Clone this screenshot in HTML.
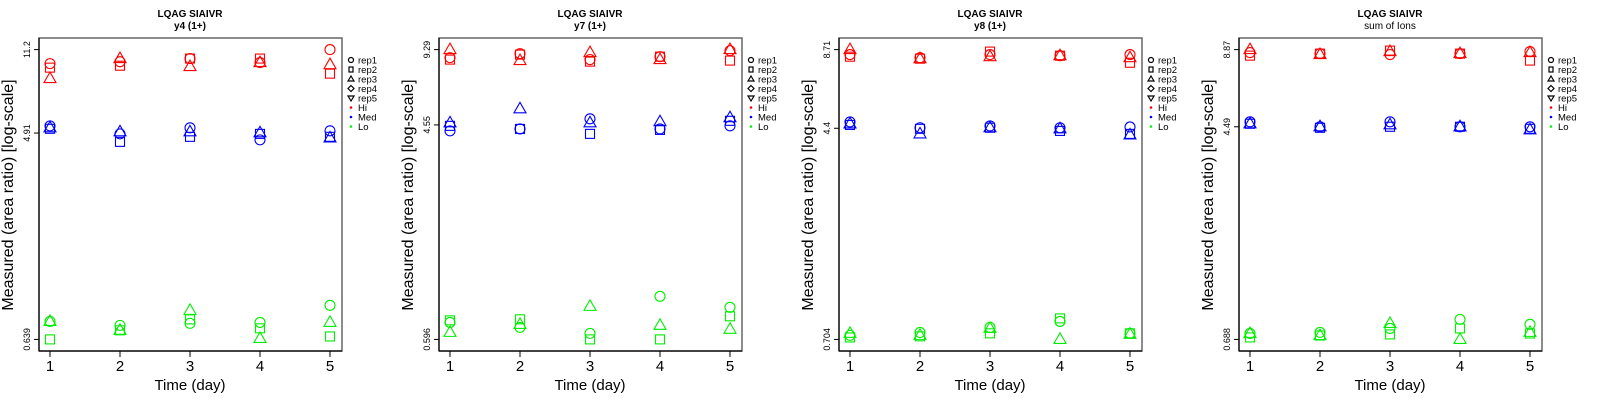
<!DOCTYPE html>
<html><head><meta charset="utf-8"><style>
html,body{margin:0;padding:0;background:#fff;}
svg{display:block;font-family:"Liberation Sans",Arial,sans-serif;}
</style></head><body>
<svg id="chart" width="1600" height="400" viewBox="0 0 1600 400" xmlns="http://www.w3.org/2000/svg"></svg>
<script>
const days = [1,2,3,4,5];
const panelTitles = ["y4 (1+)","y7 (1+)","y8 (1+)","sum of Ions"];
const yTickLabels = [["0.639","4.91","11.2"],["0.596","4.55","9.29"],["0.704","4.4","8.71"],["0.688","4.49","8.87"]];
const yMin = [0.639,0.596,0.704,0.688];
const yMax = [11.2,9.29,8.71,8.87];
const levels = ["Hi","Med","Lo"];
const reps = ["rep1","rep2","rep3"];
// panel 1 (y4)
const p1Hi  = [[9.75,9.94,10.25,9.85,11.2],[9.37,9.55,10.25,10.25,8.83],[8.41,10.25,9.47,9.85,9.65]];
const p1Med = [[5.27,4.87,5.17,4.59,5.02],[5.12,4.50,4.73,4.87,4.73],[5.17,4.97,4.97,4.92,4.68]];
const p1Lo  = [[0.763,0.734,0.749,0.756,0.895],[0.639,0.699,0.779,0.713,0.658],[0.763,0.699,0.851,0.645,0.756]];
// panel 2 (y7)
const p2Hi  = [[8.61,8.94,8.45,8.69,9.20],[8.45,8.86,8.29,8.69,8.37],[9.29,8.37,9.03,8.45,9.29]];
const p2Med = [[4.30,4.38,4.82,4.38,4.51],[4.51,4.38,4.18,4.34,4.73],[4.64,5.30,4.64,4.69,4.87]];
const p2Lo  = [[0.700,0.668,0.631,0.897,0.808],[0.714,0.721,0.596,0.596,0.742],[0.637,0.687,0.815,0.681,0.656]];
// panel 3 (y8)
const p3Hi  = [[8.34,8.12,8.34,8.26,8.34],[8.19,8.05,8.56,8.26,7.77],[8.71,8.05,8.19,8.26,8.12]];
const p3Med = [[4.65,4.42,4.49,4.42,4.45],[4.53,4.38,4.42,4.30,4.19],[4.57,4.19,4.42,4.38,4.15]];
const p3Lo  = [[0.729,0.748,0.781,0.823,0.742],[0.716,0.723,0.742,0.845,0.742],[0.742,0.729,0.775,0.704,0.736]];
// panel 4 (sum of ions)
const p4Hi  = [[8.64,8.56,8.49,8.56,8.72],[8.41,8.56,8.79,8.56,8.05],[8.87,8.49,8.72,8.56,8.64]];
const p4Med = [[4.69,4.49,4.69,4.49,4.49],[4.61,4.45,4.49,4.49,4.41],[4.61,4.49,4.57,4.49,4.37]];
const p4Lo  = [[0.725,0.732,0.758,0.821,0.786],[0.700,0.712,0.719,0.758,0.725],[0.725,0.712,0.792,0.688,0.732]];

const panelData = [[p1Hi,p1Med,p1Lo],[p2Hi,p2Med,p2Lo],[p3Hi,p3Med,p3Lo],[p4Hi,p4Med,p4Lo]];
const levelColors = ["#ff0000","#0000ff","#00ee00"];

const NS = "http://www.w3.org/2000/svg";
const svg = document.getElementById("chart");
function mk(tag, attrs, parent, text){
  const e = document.createElementNS(NS, tag);
  for (const k in attrs) e.setAttribute(k, attrs[k]);
  if (text !== undefined) e.textContent = text;
  parent.appendChild(e);
  return e;
}
const L=39,R=342,T=38,B=351;
function xScale(d){ return 50 + (d-1)*70; }
function makeY(p){
  const lo = Math.log(yMin[p]), hi = Math.log(yMax[p]);
  const pad = (hi-lo)*0.04;
  const a = lo-pad, b = hi+pad;
  return v => B - (Math.log(v)-a)/(b-a)*(B-T);
}
function drawSymbol(g, shape, x, y, color){
  let el;
  if (shape===0) el = mk("circle",{cx:x,cy:y,r:5,fill:"none",stroke:color,"stroke-width":1.1},g);
  else if (shape===1) el = mk("rect",{x:x-4.5,y:y-4.5,width:9,height:9,fill:"none",stroke:color,"stroke-width":1.1},g);
  else el = mk("polygon",{points:`${x},${y-6.5} ${x-6},${y+4} ${x+6},${y+4}`,fill:"none",stroke:color,"stroke-width":1.1},g);
  return el;
}

for (let p=0;p<4;p++){
  const g = mk("g",{transform:`translate(${p*400},0)`},svg);
  
  
  const yS = makeY(p);
  let t = mk("text",{x:190,y:17,"text-anchor":"middle","font-size":10,"font-weight":"bold"},g,"LQAG SIAIVR");
  
  
  t = mk("text",{x:190,y:29,"text-anchor":"middle","font-size":10,"font-weight":p<3?"bold":"normal"},g,panelTitles[p]);
  
  
  const box = mk("rect",{x:L,y:T,width:R-L,height:B-T,fill:"none",stroke:"#666","stroke-width":1.5},g);
  
  
  mk("line",{x1:L,y1:T,x2:L,y2:B,stroke:"#000","stroke-width":1.2},g);
  mk("line",{x1:L,y1:B,x2:R,y2:B,stroke:"#000","stroke-width":1.2},g);
  days.forEach(d=>{
    const x=xScale(d);
    mk("line",{x1:x,y1:B,x2:x,y2:B+6,stroke:"#000","stroke-width":1},g);
    const tl = mk("text",{x:x,y:371,"text-anchor":"middle","font-size":15},g,String(d));
    
    
  });
  t = mk("text",{x:190,y:390,"text-anchor":"middle","font-size":15},g,"Time (day)");
  
  
  yTickLabels[p].forEach(lbl=>{
    const y=yS(parseFloat(lbl));
    mk("line",{x1:L-5,y1:y,x2:L,y2:y,stroke:"#000","stroke-width":1},g);
    const tl = mk("text",{x:0,y:0,"text-anchor":"middle","font-size":9,transform:`translate(30,${y}) rotate(-90)`},g,lbl);
    
    
  });
  t = mk("text",{x:0,y:0,"text-anchor":"middle","font-size":16,transform:"translate(13,195) rotate(-90)"},g,"Measured (area ratio) [log-scale]");
  
  
  panelData[p].forEach((lev,li)=>{
    lev.forEach((series,ri)=>{
      series.forEach((v,di)=>{
        const s = drawSymbol(g, ri, xScale(days[di]), yS(v), levelColors[li]);
        
        
      });
    });
  });
  const lg = mk("g",{},g);
  
  
  const legLabels = ["rep1","rep2","rep3","rep4","rep5","Hi","Med","Lo"];
  legLabels.forEach((lb,i)=>{
    const y = 60 + i*9.5, x=351;
    if (i===0) mk("circle",{cx:x,cy:y,r:2.5,fill:"none",stroke:"#000","stroke-width":1.2},lg);
    else if (i===1) mk("rect",{x:x-2,y:y-2.5,width:4,height:5,fill:"none",stroke:"#000","stroke-width":1.2},lg);
    else if (i===2) mk("polygon",{points:`${x},${y-3} ${x-3},${y+2} ${x+3},${y+2}`,fill:"none",stroke:"#000","stroke-width":1.2},lg);
    else if (i===3) mk("polygon",{points:`${x},${y-3} ${x+3},${y} ${x},${y+3} ${x-3},${y}`,fill:"none",stroke:"#000","stroke-width":1.2},lg);
    else if (i===4) mk("polygon",{points:`${x},${y+3} ${x-3},${y-2} ${x+3},${y-2}`,fill:"none",stroke:"#000","stroke-width":1.2},lg);
    else mk("circle",{cx:x,cy:y,r:1.3,fill:levelColors[i-5]},lg);
    const et = mk("text",{x:358,y:y+3.5,"font-size":9.5},lg,lb);
    
    
  });
}
</script>
</body></html>
